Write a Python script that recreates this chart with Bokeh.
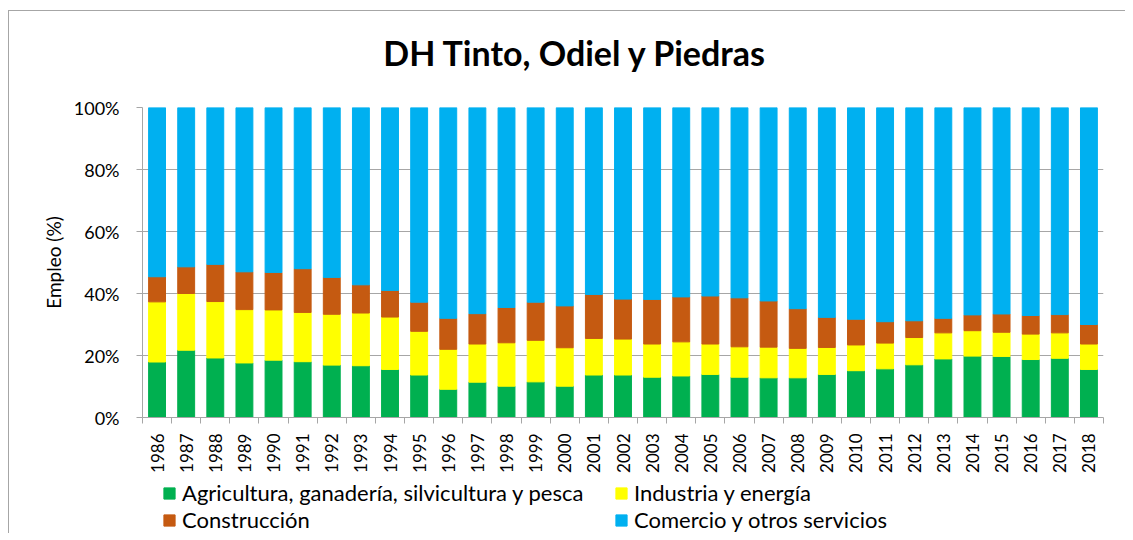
import math
from bokeh.plotting import figure
from bokeh.layouts import column
from bokeh.models import (Range1d, FixedTicker, PrintfTickFormatter, Legend,
                          LegendItem, Label, ColumnDataSource)
from bokeh.embed import file_html
from bokeh.resources import INLINE

years = [str(y) for y in range(1986, 2019)]
agricultura = [17.9, 21.7, 19.2, 17.6, 18.5, 18.0, 16.9, 16.7, 15.5, 13.7, 9.1,
               11.4, 10.1, 11.5, 10.1, 13.7, 13.7, 13.0, 13.4, 13.9, 13.0, 12.8,
               12.8, 13.9, 15.1, 15.7, 17.0, 18.9, 19.8, 19.7, 18.7, 19.1, 15.5]
industria = [19.4, 18.3, 18.2, 17.2, 16.2, 15.9, 16.4, 17.0, 16.9, 14.1, 12.9,
             12.3, 14.0, 13.4, 12.4, 11.8, 11.6, 10.7, 11.0, 9.8, 9.8, 9.9,
             9.5, 8.7, 8.3, 8.3, 8.8, 8.4, 8.2, 7.8, 8.2, 8.2, 8.2]
construccion = [8.1, 8.6, 12.0, 12.2, 12.1, 14.1, 11.9, 9.1, 8.6, 9.4, 10.0,
                9.8, 11.4, 12.3, 13.5, 14.2, 12.9, 14.4, 14.5, 15.5, 15.8, 14.9,
                12.8, 9.7, 8.3, 6.9, 5.4, 4.7, 5.1, 5.9, 6.0, 5.9, 6.3]
comercio = [54.6, 51.4, 50.6, 53.0, 53.2, 52.0, 54.8, 57.2, 59.0, 62.8, 68.0,
            66.5, 64.5, 62.8, 64.0, 60.3, 61.8, 61.9, 61.1, 60.8, 61.4, 62.4,
            64.9, 67.7, 68.3, 69.1, 68.8, 68.0, 66.9, 66.6, 67.1, 66.8, 70.0]
series_names = ["Agricultura, ganadería, silvicultura y pesca", "Industria y energía",
                "Construcción", "Comercio y otros servicios"]
colors = ["#00B050", "#FFFF00", "#C55A11", "#00B0F0"]
y_ticks = [0, 20, 40, 60, 80, 100]
title_text = "DH Tinto, Odiel y Piedras"
y_label = "Empleo (%)"

FONT = "Lato"
GRAY = "#a6a6a6"
idx = list(range(len(years)))
stackers = ["a", "i", "c", "s"]
source = ColumnDataSource(dict(x=idx, a=agricultura, i=industria, c=construccion, s=comercio))

def blank_figure(h, margin, x_range, y_range):
    f = figure(width=1117, height=h, output_backend="svg", toolbar_location=None,
               x_range=x_range, y_range=y_range, x_axis_location=None,
               y_axis_location=None, min_border_left=133, min_border_right=23,
               min_border_top=0, min_border_bottom=0, margin=margin)
    f.outline_line_color = None
    f.xgrid.visible = False
    f.ygrid.visible = False
    return f

# title strip
p0 = blank_figure(72, (10, 0, 0, 8), Range1d(0, 1), Range1d(0, 1))
p0.styles = {"border-top": "1px solid " + GRAY, "border-left": "1px solid " + GRAY}
p0.add_layout(Label(x=433, y=31, x_units="screen", y_units="screen", text=title_text,
                    text_font=FONT, text_font_style="bold", text_font_size="34px",
                    text_align="center", text_baseline="alphabetic", text_color="#000000"))

# main chart
p = figure(width=1117, height=393, output_backend="svg", toolbar_location=None,
           x_range=Range1d(-0.5, len(years) - 0.5), y_range=Range1d(0, 100),
           min_border_left=133, min_border_right=23, min_border_top=25,
           min_border_bottom=58, margin=(0, 0, 0, 8))
p.styles = {"border-left": "1px solid " + GRAY}
p.outline_line_color = None

rs = p.vbar_stack(stackers, x="x", width=0.58, source=source,
                  color=colors, line_color=colors)

p.xgrid.grid_line_color = None
p.ygrid.grid_line_color = GRAY
p.ygrid.ticker = FixedTicker(ticks=y_ticks)

p.yaxis.ticker = FixedTicker(ticks=y_ticks)
p.yaxis.formatter = PrintfTickFormatter(format="%d%%")
p.yaxis.axis_line_color = GRAY
p.yaxis.major_tick_line_color = GRAY
p.yaxis.major_tick_out = 6
p.yaxis.major_tick_in = 0
p.yaxis.minor_tick_line_color = None
p.yaxis.major_label_text_font = FONT
p.yaxis.major_label_text_font_size = "18px"
p.yaxis.major_label_text_color = "#000000"
p.yaxis.major_label_standoff = 17
p.yaxis.axis_label = y_label
p.yaxis.axis_label_text_font = FONT
p.yaxis.axis_label_text_font_style = "normal"
p.yaxis.axis_label_text_font_size = "19px"
p.yaxis.axis_label_text_color = "#000000"
p.yaxis.axis_label_standoff = 6

p.xaxis.ticker = FixedTicker(ticks=idx, minor_ticks=[i - 0.5 for i in range(len(years) + 1)])
p.xaxis.major_label_overrides = {i: y for i, y in enumerate(years)}
p.xaxis.major_label_orientation = math.pi / 2
p.xaxis.axis_line_color = GRAY
p.xaxis.major_tick_line_color = None
p.xaxis.minor_tick_line_color = GRAY
p.xaxis.minor_tick_out = 6
p.xaxis.minor_tick_in = 0
p.xaxis.major_label_text_font = FONT
p.xaxis.major_label_text_font_size = "17px"
p.xaxis.major_label_text_color = "#000000"
p.xaxis.major_label_standoff = 10

# legend strip (same series, kept out of view; only the legend shows)
p2 = blank_figure(58, (0, 0, 0, 8), Range1d(-0.5, len(years) - 0.5), Range1d(200, 201))
p2.styles = {"border-left": "1px solid " + GRAY}
swatches = p2.vbar_stack(stackers, x="x", width=0.58, source=source,
                         color=colors, line_color=colors)

def make_legend(pairs, x):
    lg = Legend(items=[LegendItem(label=series_names[k], renderers=[swatches[k]]) for k in pairs],
                location=(x, 0), orientation="vertical",
                glyph_width=14, glyph_height=14, label_height=20, label_standoff=6,
                spacing=0, padding=0, margin=0, border_line_color=None,
                background_fill_alpha=0, label_text_font=FONT,
                label_text_font_size="22px", label_text_color="#000000")
    p2.add_layout(lg, "center")

make_legend([0, 2], 20)
make_legend([1, 3], 472)

layout = column(p0, p, p2, spacing=0)
open("out.html", "w").write(file_html(layout, INLINE))
